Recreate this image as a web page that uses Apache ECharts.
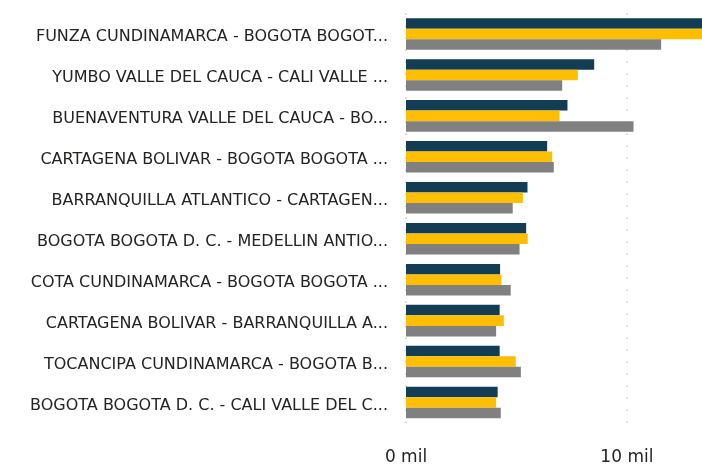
<!DOCTYPE html>
<html>
<head>
<meta charset="utf-8">
<script src="https://cdn.jsdelivr.net/npm/echarts@6/dist/echarts.min.js"></script>
<style>
  html, body { margin: 0; padding: 0; background: #fff; }
  #chart { width: 702px; height: 466px; }
</style>
</head>
<body>
<div id="chart"></div>
<script>
// rutas (origen - destino), truncadas como en el visual
const categories = [
  "FUNZA CUNDINAMARCA - BOGOTA BOGOT...",
  "YUMBO VALLE DEL CAUCA - CALI VALLE ...",
  "BUENAVENTURA VALLE DEL CAUCA - BO...",
  "CARTAGENA BOLIVAR - BOGOTA BOGOTA ...",
  "BARRANQUILLA ATLANTICO - CARTAGEN...",
  "BOGOTA BOGOTA D. C. - MEDELLIN ANTIO...",
  "COTA CUNDINAMARCA - BOGOTA BOGOTA ...",
  "CARTAGENA BOLIVAR - BARRANQUILLA A...",
  "TOCANCIPA CUNDINAMARCA - BOGOTA B...",
  "BOGOTA BOGOTA D. C. - CALI VALLE DEL C..."
];

// valores en miles (mil)
const serieA = [14.2, 8.52, 7.31, 6.39, 5.5, 5.44, 4.26, 4.24, 4.24, 4.15];
const serieB = [14.6, 7.78, 6.95, 6.62, 5.29, 5.51, 4.32, 4.43, 4.97, 4.08];
const serieC = [11.55, 7.07, 10.3, 6.69, 4.83, 5.14, 4.74, 4.08, 5.2, 4.29];

const xTicks = { min: 0, max: 13.4, interval: 10 };

const myChart = echarts.init(document.getElementById("chart"));

const option = {
  animation: false,
  grid: { left: 406, right: 0, top: 13.5, bottom: 42, containLabel: false },
  xAxis: {
    type: "value",
    min: xTicks.min,
    max: xTicks.max,
    interval: xTicks.interval,
    axisLine: { show: false },
    axisTick: { show: false },
    axisLabel: {
      formatter: "{value} mil",
      showMaxLabel: false,
      color: "#252423",
      fontSize: 17,
      fontFamily: "DejaVu Sans",
      margin: 26
    },
    splitLine: {
      show: true,
      showMaxLine: false,
      lineStyle: { color: "#c8c8c8", width: 1.5, type: [1.5, 10.5] }
    }
  },
  yAxis: {
    type: "category",
    data: categories,
    inverse: true,
    axisLine: { show: false },
    axisTick: { show: false },
    axisLabel: {
      formatter: "{t|{value}}",
      margin: 18,
      rich: {
        t: {
          color: "#252423",
          fontSize: 16,
          fontFamily: "DejaVu Sans",
          padding: [6, 0, 0, 0]
        }
      }
    }
  },
  series: [
    {
      name: "A",
      type: "bar",
      data: serieA,
      barGap: "0%",
      barCategoryGap: "23%",
      itemStyle: { color: "#123d55" }
    },
    {
      name: "B",
      type: "bar",
      data: serieB,
      barGap: "0%",
      barCategoryGap: "23%",
      itemStyle: { color: "#ffbf00" }
    },
    {
      name: "C",
      type: "bar",
      data: serieC,
      barGap: "0%",
      barCategoryGap: "23%",
      itemStyle: { color: "#808080" }
    }
  ]
};

myChart.setOption(option);
</script>
</body>
</html>
